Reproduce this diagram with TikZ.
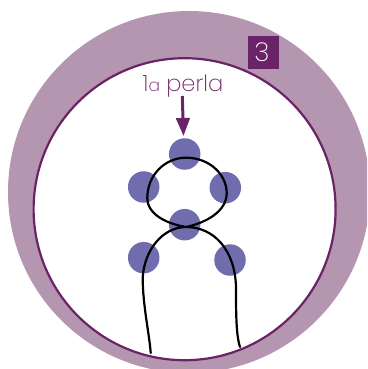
\documentclass[tikz,border=0pt]{standalone}
\usepackage{fontspec}
\setmainfont{Poppins}[UprightFont=* ExtraLight]
\usetikzlibrary{arrows.meta}
\definecolor{ringc}{HTML}{B596B0}
\definecolor{plum}{HTML}{6B2368}
\definecolor{bead}{HTML}{6F6DAE}
\tikzset{
  beadnode/.style={circle,fill=bead,minimum size=31.5pt,inner sep=0pt,outer sep=0pt},
  thread/.style={draw=black,line width=2.2pt,line cap=round}
}
\begin{document}
\begin{tikzpicture}[x=1pt,y=-1pt]
\useasboundingbox (0,0) rectangle (367,369);
\clip (0,0) rectangle (367,369);
\fill[ringc] (189,192) circle[radius=181];
\filldraw[fill=white,draw=plum,line width=2.2pt] (184.6,209.2) circle[radius=151];
\node[fill=plum,minimum width=31pt,minimum height=33pt,inner sep=0pt,outer sep=0pt] (badge) at (263.5,52.5) {};
\node[text=white,inner sep=0pt,font=\fontsize{26}{28}\selectfont] (badgetext) at (262,52) {3};
\node[beadnode] (b1) at (184.7,154) {};
\node[beadnode] (b2) at (143.7,187) {};
\node[beadnode] (b3) at (225.3,187.7) {};
\node[beadnode] (b4) at (184.7,224.7) {};
\node[beadnode] (b5) at (143.7,257.7) {};
\node[beadnode] (b6) at (230,260) {};
\node[text=plum,inner sep=0pt,anchor=base] (lab) at (183,91.7) {\fontsize{22.5}{24}\selectfont 1{\fontsize{17}{20}\selectfont a} perla};
\coordinate (tail) at (182.3,96);
\coordinate (tip) at (183.5,136);
\draw[plum,line width=3pt,-{Triangle[length=18pt,width=13.5pt]}] (tail) -- (tip);
\path[thread] (150.7,353)
  .. controls (149.5,335) and (142.7,305) .. (142.7,278)
  .. controls (144,250) and (163,227) .. (186,227)
  .. controls (205,223) and (226.7,212) .. (226.7,193)
  .. controls (226.7,175) and (210,157.7) .. (186,157.7)
  .. controls (165,157.7) and (147.3,175) .. (147.3,198)
  .. controls (147.3,215) and (168,224) .. (186,227)
  .. controls (214,227) and (235,250) .. (236,287)
  .. controls (236,312) and (236,335) .. (240,347);
\end{tikzpicture}
\end{document}
